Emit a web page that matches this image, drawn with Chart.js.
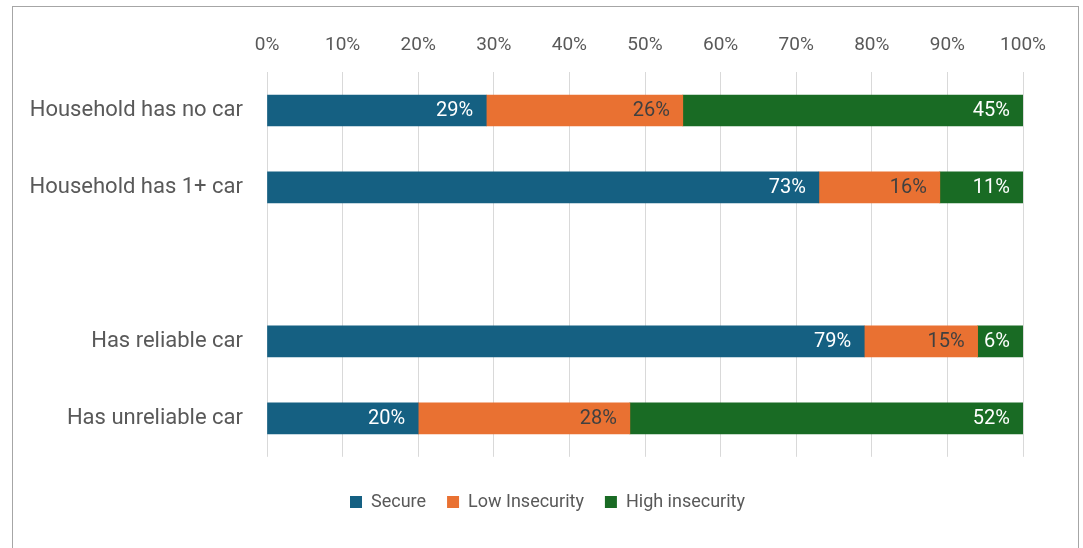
<!DOCTYPE html>
<html>
<head>
<meta charset="utf-8">
<script src="https://cdn.jsdelivr.net/npm/chart.js@4.4.0/dist/chart.umd.min.js"></script>
<style>
  body { margin: 0; background: #fff; }
  #wrap { position: relative; width: 1083px; height: 548px; }
  #frame { position: absolute; left: 12px; top: 6px; width: 1067px; height: 560px;
           border: 1.5px solid #a6a6a6; box-sizing: border-box; }
  canvas { position: absolute; left: 0; top: 0; }
</style>
</head>
<body>
<div id="wrap">
  <div id="frame"></div>
  <canvas id="carChart" width="1083" height="548"></canvas>
</div>
<script>
const categories = ["Household has no car", "Household has 1+ car", "", "Has reliable car", "Has unreliable car"];
const secure = [29, 73, null, 79, 20];
const lowInsecurity = [26, 16, null, 15, 28];
const highInsecurity = [45, 11, null, 6, 52];
const xTicks = [0, 10, 20, 30, 40, 50, 60, 70, 80, 90, 100];

const FONT = "Roboto, 'Liberation Sans', sans-serif";
const GREY = "#595959";

// draw value labels inside the end of each segment
const barLabels = {
    id: "barLabels",
    afterDatasetsDraw(chart) {
        const ctx = chart.ctx;
        ctx.save();
        ctx.font = "20px " + FONT;
        ctx.textAlign = "right";
        ctx.textBaseline = "middle";
        chart.data.datasets.forEach((ds, i) => {
            const meta = chart.getDatasetMeta(i);
            meta.data.forEach((bar, j) => {
                const v = ds.data[j];
                if (v == null) return;
                ctx.fillStyle = ds.labelColor;
                ctx.fillText(v + "%", bar.x - 13, bar.y + 1);
            });
        });
        ctx.restore();
    }
};

new Chart(document.getElementById("carChart"), {
    type: "bar",
    data: {
        labels: categories,
        datasets: [
            { label: "Secure", data: secure, backgroundColor: "#156082", labelColor: "#ffffff" },
            { label: "Low Insecurity", data: lowInsecurity, backgroundColor: "#E97132", labelColor: "#404040" },
            { label: "High insecurity", data: highInsecurity, backgroundColor: "#196B24", labelColor: "#ffffff" }
        ]
    },
    options: {
        indexAxis: "y",
        responsive: false,
        animation: false,
        maintainAspectRatio: false,
        layout: { padding: { left: 12, right: 0, top: 0, bottom: 27 } },
        datasets: { bar: { barThickness: 31, borderWidth: 0 } },
        scales: {
            x: {
                position: "top",
                stacked: true,
                min: 0,
                max: 100,
                afterBuildTicks: s => { s.ticks = xTicks.map(v => ({ value: v })); },
                afterFit: s => { s.height = 72; },
                grid: { color: "#d9d9d9", lineWidth: 1, drawTicks: false },
                border: { display: false },
                ticks: {
                    padding: 15,
                    color: GREY,
                    font: { size: 19, family: FONT },
                    callback: v => v + "%"
                }
            },
            y: {
                stacked: true,
                afterFit: s => { s.width = 255; },
                grid: { display: false },
                border: { display: false },
                ticks: {
                    padding: 16,
                    color: GREY,
                    font: { size: 22, family: FONT }
                }
            },
            // empty spacer on the right so the plot ends at 100% well inside the frame
            yRight: {
                axis: "y",
                type: "category",
                position: "right",
                afterFit: s => { s.width = 60; },
                grid: { display: false },
                border: { display: false },
                ticks: { display: false }
            }
        },
        plugins: {
            tooltip: { enabled: false },
            legend: {
                position: "bottom",
                title: { display: true, text: "", font: { size: 1 }, padding: { top: 14, bottom: 0 } },
                labels: {
                    boxWidth: 12,
                    boxHeight: 12,
                    padding: 21,
                    color: GREY,
                    font: { size: 18, family: FONT }
                }
            }
        }
    },
    plugins: [barLabels]
});
</script>
</body>
</html>
